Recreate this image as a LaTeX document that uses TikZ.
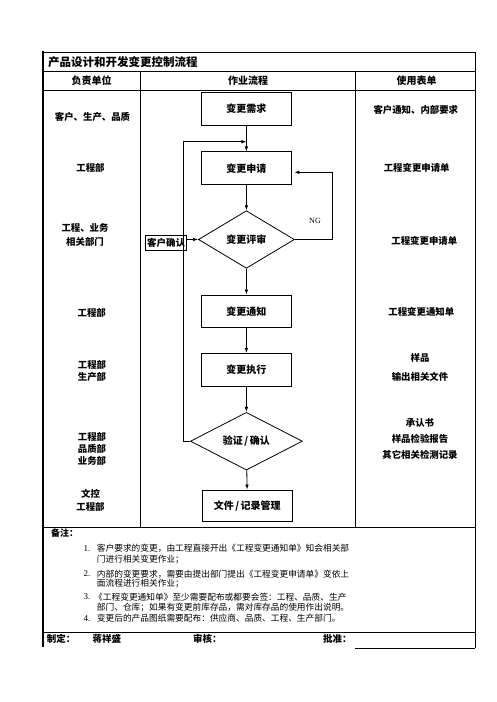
\documentclass[tikz,border=0pt]{standalone}
\usepackage{fontspec}
\setmainfont{Liberation Serif}
\newfontfamily\cjk{Noto Sans CJK SC}
\usetikzlibrary{shapes.geometric,arrows.meta}
\begin{document}
\begin{tikzpicture}[x=1pt,y=-1pt,
  tline/.style={line width=0.8pt},
  box/.style={draw,line width=0.8pt,minimum width=89.3pt,minimum height=32.7pt,inner sep=0pt,font=\cjk\bfseries\fontsize{10}{12}\selectfont},
  dia/.style={draw,diamond,line width=0.8pt,inner sep=0pt,font=\cjk\bfseries\fontsize{10}{12}\selectfont},
  lbl/.style={font=\cjk\bfseries\fontsize{9.4}{12.3}\selectfont,align=center,inner sep=0pt},
  hdr/.style={font=\cjk\bfseries\fontsize{10}{12}\selectfont,inner sep=0pt},
  note/.style={font=\cjk\fontsize{8.7}{10}\selectfont,anchor=west,inner sep=0pt},
  num/.style={font=\fontsize{9}{10}\selectfont,anchor=west,inner sep=0pt},
  foot/.style={font=\cjk\bfseries\fontsize{9.5}{11}\selectfont,anchor=west,inner sep=0pt},
  arr/.style={line width=0.8pt,-{Latex[length=5pt,width=3.6pt]}}
]
\useasboundingbox (0,0) rectangle (496,702);
% table grid
\draw[tline] (42,52) -- (475,52);
\draw[line width=2pt] (42.7,51.2) -- (42.7,647);
\draw[tline] (475,52) -- (475,648.4);
\draw[tline] (42,71) -- (475,71);
\draw[tline] (42,90) -- (475,90);
\draw[tline] (140.7,71) -- (140.7,527);
\draw[tline] (355.7,71) -- (355.7,527);
\draw[tline] (42,527) -- (475,527);
\draw[tline] (42,632) -- (475,632);
\draw[tline] (355,648) -- (475,648);
% title and headers
\node[anchor=west,font=\cjk\bfseries\fontsize{11.5}{13}\selectfont,inner sep=0pt] (title) at (48,62.5) {产品设计和开发变更控制流程};
\node[hdr] (h1) at (91.7,80.7) {负责单位};
\node[hdr] (h2) at (248,80.7) {作业流程};
\node[hdr] (h3) at (416.7,80.7) {使用表单};
% flow
\node[box] (req) at (246.4,108.7) {变更需求};
\node[box] (apply) at (246.4,168.2) {变更申请};
\node[dia,minimum width=96pt,minimum height=57.6pt,aspect=1.667] (review) at (246.4,239.5) {变更评审};
\node[box] (notice) at (246.4,311.3) {变更通知};
\node[box] (exec) at (246.4,369.7) {变更执行};
\node[dia,minimum width=112pt,minimum height=57.7pt,aspect=1.94] (verify) at (246.4,441.2) {验证\kern1.5pt/\kern1.5pt确认};
\node[box,minimum width=90pt,minimum height=31.7pt] (doc) at (247.3,505.8) {文件\kern1.5pt/\kern1.5pt记录管理};
\node[draw,line width=0.8pt,font=\cjk\bfseries\fontsize{9.5}{11}\selectfont,inner sep=0.3pt,minimum width=41pt,minimum height=15.7pt] (cust) at (166.2,242.8) {客户确认};
\draw[arr] (req) -- (apply);
\draw[arr] (apply) -- (review);
\draw[arr] (review) -- (notice);
\draw[arr] (notice) -- (exec);
\draw[arr] (exec) -- (verify);
\draw[arr] (verify) -- (doc);
\coordinate (lb) at (183.3,441.2);
\coordinate (lt) at (183.3,141.7);
\coordinate (lj) at (246.4,141.7);
\draw[arr] (verify.west) -- (lb) -- (lt) -- (lj);
\coordinate (ngb) at (332.3,239.5);
\coordinate (ngt) at (332.3,172.3);
\draw[arr,shorten >=3pt] (review.east) -- (ngb) -- (ngt) -- (apply.east |- ngt);
\node[font=\fontsize{8}{9}\selectfont,inner sep=0pt] (ng) at (315,220.5) {NG};
\draw[arr] (review.west -| cust.east) -- (review.west);
% left column
\node[lbl] (l1) at (92.5,116.7) {客户、生产、品质};
\node[lbl] (l2) at (90.5,168.3) {工程部};
\node[lbl,font=\cjk\bfseries\fontsize{9.4}{13.4}\selectfont] (l3) at (85,235) {工程、业务\\相关部门};
\node[lbl] (l4) at (91.7,312.7) {工程部};
\node[lbl] (l5) at (92,371.2) {工程部\\生产部};
\node[lbl,font=\cjk\bfseries\fontsize{9.4}{12}\selectfont] (l6) at (92,448.5) {工程部\\品质部\\业务部};
\node[lbl,font=\cjk\bfseries\fontsize{9.4}{12.7}\selectfont] (l7) at (90.5,500.4) {文控\\工程部};
% right column
\node[lbl] (r1) at (415.8,109.5) {客户通知、内部要求};
\node[lbl] (r2) at (416.7,167.7) {工程变更申请单};
\node[lbl] (r3) at (424.3,240.7) {工程变更申请单};
\node[lbl] (r4) at (421.3,311.7) {工程变更通知单};
\node[lbl,font=\cjk\bfseries\fontsize{9.4}{19}\selectfont] (r5) at (420,367.8) {样品\\输出相关文件};
\node[lbl,font=\cjk\bfseries\fontsize{9.4}{15.9}\selectfont] (r6) at (420,439.2) {承认书\\样品检验报告\\其它相关检测记录};
% notes
\node[anchor=west,font=\cjk\bfseries\fontsize{9}{10}\selectfont,inner sep=0pt] (bz) at (51,533.5) {备注：};
\node[num] (n1) at (83.3,548.3) {1.};
\node[note] (t1a) at (96.7,548.3) {客户要求的变更，由工程直接开出《工程变更通知单》知会相关部};
\node[note] (t1b) at (96.7,559.8) {门进行相关变更作业；};
\node[num] (n2) at (83.3,573.8) {2.};
\node[note] (t2a) at (96.7,573.8) {内部的变更要求，需要由提出部门提出《工程变更申请单》变依上};
\node[note] (t2b) at (96.7,584) {面流程进行相关作业；};
\node[num] (n3) at (83.3,596.7) {3.};
\node[note] (t3a) at (94,596.7) {《工程变更通知单》至少需要配布或都要会签：工程、品质、生产};
\node[note] (t3b) at (96.7,607) {部门、仓库；如果有变更前库存品，需对库存品的使用作出说明。};
\node[num] (n4) at (83.3,618.3) {4.};
\node[note] (t4a) at (96.7,618.3) {变更后的产品图纸需要配布：供应商、品质、工程、生产部门。};
% footer
\node[foot] (f1) at (46.7,638.7) {制定：};
\node[foot] (f2) at (92.3,638.7) {蒋祥盛};
\node[foot] (f3) at (193,638.7) {审核：};
\node[foot] (f4) at (323,638.7) {批准：};
\end{tikzpicture}
\end{document}
